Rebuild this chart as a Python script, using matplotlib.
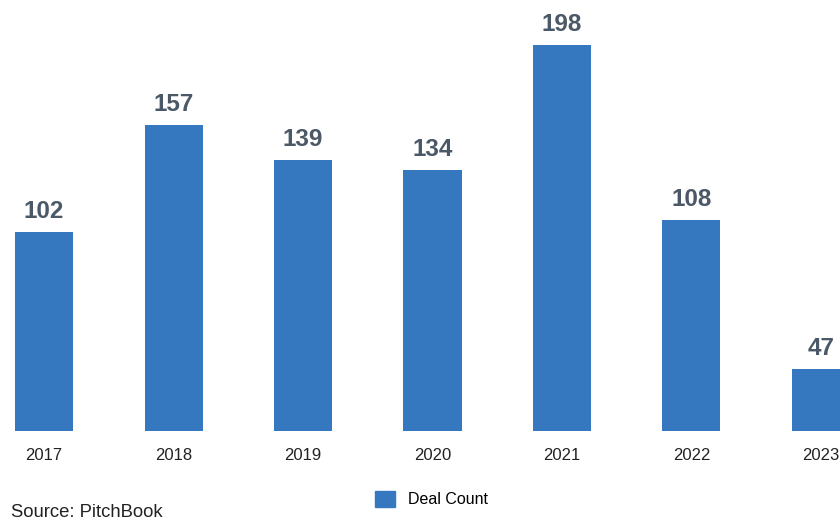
import matplotlib
matplotlib.use("Agg")
import matplotlib.pyplot as plt
from matplotlib.patches import Patch

plt.rcParams['font.family'] = ['Liberation Sans', 'DejaVu Sans']

years = ["2017", "2018", "2019", "2020", "2021", "2022", "2023"]
bar_heights = [102, 157, 139, 134, 198, 108, 32]
value_labels = ["102", "157", "139", "134", "198", "108", "47"]
series_name = "Deal Count"
source_text = "Source: PitchBook"

bar_color = "#3678bf"
label_color = "#4b5867"

fig = plt.figure(figsize=(8.4, 5.22), dpi=100)
ax = fig.add_axes([0, 91/522, 1, 429/522])
x = list(range(len(years)))
bars = ax.bar(x, bar_heights, width=0.448, color=bar_color)
for xi, h, lab in zip(x, bar_heights, value_labels):
    ax.annotate(lab, (xi, h), xytext=(0, 9), textcoords="offset pixels",
                ha="center", va="bottom", fontsize=17.5, fontweight="bold",
                color=label_color)
ax.set_xlim(-0.340, 6.147)
ax.set_ylim(0, 220)
ax.set_xticks(x)
ax.set_xticklabels(years, fontsize=12, color="#222222")
ax.tick_params(axis="x", length=0, pad=12.5)
ax.set_yticks([])
for s in ax.spines.values():
    s.set_visible(False)
ax.patch.set_alpha(0)

fig.legend(handles=[Patch(color=bar_color, label=series_name)], loc="center",
           bbox_to_anchor=(0.514, 0.044), frameon=False, fontsize=11.5,
           handlelength=1.25, handleheight=1.25, handletextpad=0.8)
fig.text(0.013, 0.0105, source_text, fontsize=13.3, color="#222222", va="baseline", ha="left")

fig.savefig("out.png", dpi=100)
